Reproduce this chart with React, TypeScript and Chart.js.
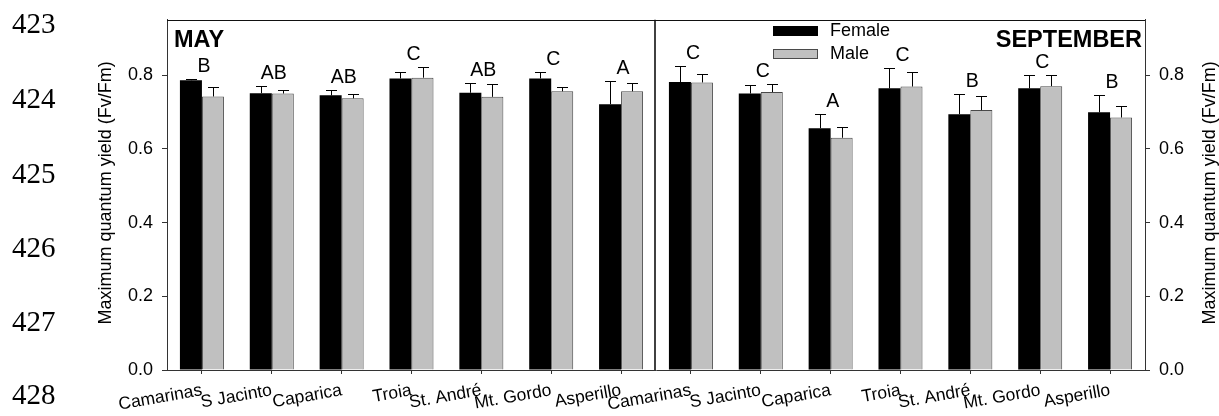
import React, { useEffect, useRef } from 'react';
import { Chart, registerables } from 'chart.js';

Chart.register(...registerables);

// ---------- DATA ----------
const sites = ['Camarinas', 'S Jacinto', 'Caparica', 'Troia', 'St. André', 'Mt. Gordo', 'Asperillo'];
const panelTitles = ['MAY', 'SEPTEMBER'];
const seriesNames = ['Female', 'Male'];

const mayFemale = [0.786, 0.751, 0.745, 0.791, 0.752, 0.791, 0.721];
const mayFemaleErr = [0.003, 0.020, 0.014, 0.018, 0.027, 0.017, 0.063];
const mayMale = [0.742, 0.750, 0.737, 0.793, 0.741, 0.756, 0.756];
const mayMaleErr = [0.026, 0.010, 0.013, 0.029, 0.034, 0.013, 0.023];

const sepFemale = [0.781, 0.750, 0.656, 0.764, 0.694, 0.764, 0.699];
const sepFemaleErr = [0.043, 0.024, 0.038, 0.055, 0.054, 0.037, 0.048];
const sepMale = [0.780, 0.754, 0.630, 0.769, 0.705, 0.770, 0.685];
const sepMaleErr = [0.024, 0.022, 0.029, 0.040, 0.039, 0.029, 0.032];

const mayLetters = ['B', 'AB', 'AB', 'C', 'AB', 'C', 'A'];
const sepLetters = ['C', 'C', 'A', 'C', 'B', 'C', 'B'];

const yTickValues = [0, 0.2, 0.4, 0.6, 0.8];
const yMax = 0.95;
const yTitle = 'Maximum quantum yield (Fv/Fm)';
const lineNumbers = ['423', '424', '425', '426', '427', '428'];

// ---------- DERIVED ----------
const categories = [...sites, ...sites];
const female = [...mayFemale, ...sepFemale];
const male = [...mayMale, ...sepMale];
const femaleErr = [...mayFemaleErr, ...sepFemaleErr];
const maleErr = [...mayMaleErr, ...sepMaleErr];
const letters = [...mayLetters, ...sepLetters];

const FONT = '"Liberation Sans", Arial, Helvetica, sans-serif';
const SERIF = '"Liberation Serif", "Times New Roman", serif';
const AXIS = '#333333';

const lineNumberBaselines = [33, 108, 183, 257, 331, 404];

const overlayPlugin = {
  id: 'overlay',
  afterDatasetsDraw(chart: any) {
    const ctx = chart.ctx;
    const ys = chart.scales.y;
    const xs = chart.scales.x;
    const errs = [femaleErr, maleErr];
    ctx.save();
    ctx.strokeStyle = '#000';
    ctx.lineWidth = 1;
    errs.forEach((errArr, di) => {
      const meta = chart.getDatasetMeta(di);
      const vals = chart.data.datasets[di].data as number[];
      meta.data.forEach((bar: any, i: number) => {
        const top = Math.round(ys.getPixelForValue(vals[i] + errArr[i])) + 0.5;
        const x = Math.round(bar.x) + 0.5;
        ctx.beginPath();
        ctx.moveTo(x, bar.y);
        ctx.lineTo(x, top);
        ctx.moveTo(x - 5.5, top);
        ctx.lineTo(x + 5.5, top);
        ctx.stroke();
      });
    });
    // significance letters
    ctx.fillStyle = '#000';
    ctx.font = `19.5px ${FONT}`;
    ctx.textAlign = 'center';
    ctx.textBaseline = 'alphabetic';
    letters.forEach((L, i) => {
      const cx = xs.getPixelForValue(i);
      const capTop = Math.min(
        ys.getPixelForValue(female[i] + femaleErr[i]),
        ys.getPixelForValue(male[i] + maleErr[i])
      );
      ctx.fillText(L, cx + 2, capTop - 7);
    });
    ctx.restore();
  },
  afterDraw(chart: any) {
    const ctx = chart.ctx;
    const { left, right, top, bottom } = chart.chartArea;
    ctx.save();
    // frame top + middle divider
    ctx.strokeStyle = '#111';
    ctx.lineWidth = 1;
    ctx.beginPath();
    ctx.moveTo(left, Math.round(top) + 0.5);
    ctx.lineTo(right, Math.round(top) + 0.5);
    ctx.stroke();
    const mid = Math.round(left + (right - left) / 2) - 1;
    ctx.lineWidth = 1.6;
    ctx.beginPath();
    ctx.moveTo(mid, top);
    ctx.lineTo(mid, bottom);
    ctx.stroke();

    // panel titles
    ctx.fillStyle = '#000';
    ctx.font = `bold 23.5px ${FONT}`;
    ctx.textBaseline = 'alphabetic';
    ctx.textAlign = 'left';
    ctx.fillText(panelTitles[0], left + 7, top + 27);
    ctx.textAlign = 'right';
    ctx.fillText(panelTitles[1], right - 3, top + 27);

    // legend
    const ds = chart.data.datasets;
    const lx = 773;
    const rows = [26, 49];
    ds.forEach((d: any, i: number) => {
      const ry = rows[i];
      ctx.fillStyle = d.backgroundColor;
      ctx.fillRect(lx, ry, 45, 10);
      if (d.borderWidth) {
        ctx.strokeStyle = d.borderColor;
        ctx.lineWidth = 1;
        ctx.strokeRect(lx + 0.5, ry + 0.5, 44, 9);
      }
      ctx.fillStyle = '#000';
      ctx.font = `18px ${FONT}`;
      ctx.textAlign = 'left';
      ctx.textBaseline = 'middle';
      ctx.fillText(seriesNames[i], lx + 57, ry + 5);
    });

    // axis titles (both read bottom-to-top)
    ctx.font = `18px ${FONT}`;
    ctx.fillStyle = '#000';
    ctx.textAlign = 'center';
    ctx.textBaseline = 'middle';
    const cy = (top + bottom) / 2 - 2;
    [106, 1210].forEach((tx) => {
      ctx.save();
      ctx.translate(tx, cy);
      ctx.rotate(-Math.PI / 2);
      ctx.fillText(yTitle, 0, 0);
      ctx.restore();
    });

    // document line numbers
    ctx.font = `29px ${SERIF}`;
    ctx.textAlign = 'left';
    ctx.textBaseline = 'alphabetic';
    lineNumbers.forEach((n, i) => {
      ctx.fillText(n, 12, lineNumberBaselines[i]);
    });
    ctx.restore();
  },
};

export default function App() {
  const canvasRef = useRef<HTMLCanvasElement | null>(null);

  useEffect(() => {
    const canvas = canvasRef.current;
    if (!canvas) return;
    const yCommon = {
      min: 0,
      max: yMax,
      afterBuildTicks: (scale: any) => {
        scale.ticks = yTickValues.map((v) => ({ value: v }));
      },
      ticks: {
        font: { family: FONT, size: 18 },
        color: '#000',
        padding: 9,
        callback: (v: any) => Number(v).toFixed(1),
      },
      grid: { drawOnChartArea: false, drawTicks: true, tickLength: 5, color: AXIS },
      border: { display: true, color: AXIS, width: 1 },
      title: { display: false },
    };
    const chart = new Chart(canvas, {
      type: 'bar',
      data: {
        labels: categories,
        datasets: [
          {
            label: seriesNames[0],
            data: female,
            backgroundColor: '#000000',
            borderColor: '#000000',
            borderWidth: 0,
            yAxisID: 'y',
          },
          {
            label: seriesNames[1],
            data: male,
            backgroundColor: '#c0c0c0',
            borderColor: '#4a4a4a',
            borderWidth: 1,
            yAxisID: 'y',
          },
        ],
      },
      options: {
        responsive: false,
        animation: false,
        devicePixelRatio: 1,
        layout: { padding: { top: 16, left: 0, right: 0, bottom: 0 } },
        datasets: {
          bar: { categoryPercentage: 0.63, barPercentage: 1.0 },
        },
        plugins: {
          legend: { display: false },
          tooltip: { enabled: false },
          title: { display: false },
        },
        scales: {
          x: {
            type: 'category',
            offset: true,
            afterFit: (scale: any) => {
              scale.height = 46;
            },
            grid: {
              offset: false,
              drawOnChartArea: false,
              drawTicks: true,
              tickLength: 4,
              color: AXIS,
            },
            border: { display: true, color: AXIS, width: 1 },
            ticks: {
              autoSkip: false,
              minRotation: 10,
              maxRotation: 10,
              padding: 6,
              color: '#000',
              font: { family: FONT, size: 17.5 },
            },
          },
          y: {
            ...yCommon,
            position: 'left',
            afterFit: (scale: any) => {
              scale.width = 167;
            },
          } as any,
          y2: {
            ...yCommon,
            position: 'right',
            display: true,
            afterFit: (scale: any) => {
              scale.width = 74;
            },
          } as any,
        },
      },
      plugins: [overlayPlugin],
    });
    return () => chart.destroy();
  }, []);

  return (
    <div style={{ position: 'fixed', left: 0, top: 0, width: 1219, height: 416, background: '#fff' }}>
      <canvas ref={canvasRef} width={1219} height={416} style={{ display: 'block', width: 1219, height: 416 }} />
    </div>
  );
}
